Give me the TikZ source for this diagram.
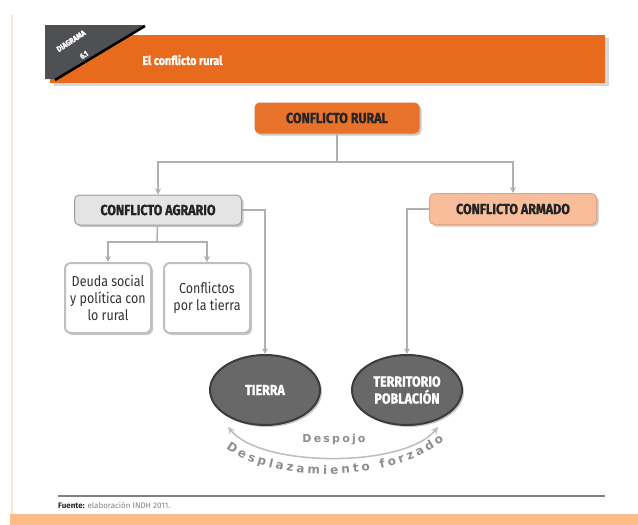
\documentclass[tikz,border=0pt]{standalone}
\usepackage{fontspec}
\setmainfont{Fira Sans}
\newfontfamily\cond[FakeStretch=0.86,BoldFeatures={FakeBold=1.3}]{Fira Sans}
\newfontfamily\verd{DejaVu Sans}
\usetikzlibrary{shadows,decorations.text,arrows.meta,shapes.geometric,calc}
\definecolor{hdr}{HTML}{E86A1C}
\definecolor{ruralc}{HTML}{E8722A}
\definecolor{armfill}{HTML}{F8BE9C}
\definecolor{armdraw}{HTML}{E7A47E}
\definecolor{agrfill}{HTML}{E4E4E4}
\definecolor{agrdraw}{HTML}{9C9C9C}
\definecolor{elfill}{HTML}{686868}
\definecolor{eldraw}{HTML}{3C3C3C}
\definecolor{lnc}{HTML}{B0B0B0}
\definecolor{txtd}{HTML}{242424}
\definecolor{curvc}{HTML}{BDBDBD}
\definecolor{curvt}{HTML}{8E8E8E}
\definecolor{tagc}{HTML}{4E5053}
\definecolor{bandc}{HTML}{FDBB88}
\definecolor{edgec}{HTML}{FCE2CF}
\tikzset{
  shad/.style={drop shadow={shadow xshift=2pt,shadow yshift=-2pt,opacity=0.35,fill=black!60}},
  bigbox/.style={rectangle,rounded corners=5pt,minimum height=30pt,text=txtd,
    font=\cond\bfseries\fontsize{14.5}{16}\selectfont,shad,line width=1pt},
  smallbox/.style={rectangle,rounded corners=6pt,draw=black!25,line width=2pt,fill=white,
    minimum width=86pt,minimum height=70pt,align=center,text=black!80,
    font=\cond\fontsize{14.5}{17}\selectfont,shad},
  oval/.style={ellipse,fill=elfill,draw=eldraw,line width=2pt,minimum width=110pt,
    minimum height=70pt,inner sep=0pt,text=white,align=center,
    font=\cond\bfseries\fontsize{14.5}{17}\selectfont,shad},
  conn/.style={draw=lnc,line width=1.5pt},
  arr/.style={conn,-{Stealth[length=6pt,width=6pt]}},
  tagtxt/.style={text=white,font=\cond\bfseries\fontsize{8}{9}\selectfont,rotate=33,inner sep=0pt},
}
\begin{document}
\begin{tikzpicture}[x=1pt,y=-1pt]
\useasboundingbox (0,0) rectangle (638,525);
\fill[white] (0,0) rectangle (638,525);
% page edges
\draw[edgec,line width=2pt] (12,15) -- (12,514);
\fill[bandc] (10,514) rectangle (638,525);
% header
\fill[hdr,drop shadow={shadow xshift=4pt,shadow yshift=-3pt,opacity=0.3,fill=black!50}] (50,35) rectangle (605,83);
\fill[tagc] (45,25) -- (145,25) -- (57,79) -- (45,79) -- cycle;
\draw[black,line width=2.5pt] (145,26) -- (55,80);
\node[tagtxt] (tag1) at (71,41) {DIAGRAMA};
\node[tagtxt] (tag2) at (84,55) {6.1};
\node[text=white,font=\cond\bfseries\fontsize{12.5}{14}\selectfont,anchor=west] (title) at (139,60) {El conflicto rural};
% nodes
\node[bigbox,fill=ruralc,minimum width=165pt,minimum height=31pt] (rural) at (337,118) {CONFLICTO RURAL};
\node[bigbox,fill=agrfill,draw=agrdraw,minimum width=167pt] (agrario) at (158,210) {CONFLICTO AGRARIO};
\node[bigbox,fill=armfill,draw=armdraw,minimum width=167pt,minimum height=31pt] (armado) at (513,209) {CONFLICTO ARMADO};
\node[smallbox] (deuda) at (108,298) {Deuda social\\y política con\\lo rural};
\node[smallbox] (confl) at (207,298) {Conflictos\\por la tierra};
\node[oval] (tierra) at (265,390) {TIERRA};
\node[oval] (terr) at (407,390) {TERRITORIO\\POBLACIÓN};
% connectors
\coordinate (s1) at (337,162);
\coordinate (s2) at (157,242);
\draw[conn] (rural) -- (s1);
\draw[arr] (s1) -| (agrario);
\draw[arr] (s1) -| (armado);
\draw[conn] (agrario) -- (s2);
\draw[arr] (s2) -| (deuda);
\draw[arr] (s2) -| (confl);
\draw[arr] (agrario.east) -| (tierra);
\draw[arr] (armado.west) -| (terr);
% curved arrow
\coordinate (cl) at (228,427);
\coordinate (cr) at (438,427);
\draw[draw=curvc,line width=1.5pt,{Stealth[length=7pt,width=7pt]}-{Stealth[length=7pt,width=7pt]}]
  (cl) .. controls (262,468) and (404,468) .. (cr);
\node[text=curvt,font=\verd\bfseries\fontsize{11}{12}\selectfont\addfontfeature{LetterSpace=20}] (desp) at (334,440) {Despojo};
\path[decorate,decoration={text along path,text color=curvt,text align={fit to path},
  text={|\verd\bfseries\fontsize{12}{13}\selectfont|Desplazamiento forzado}}]
  (226,448) .. controls (272,484) and (392,484) .. (444,440);
% footer
\draw[black!50,line width=2pt] (58,496) -- (605,496);
\node[anchor=west,font=\fontsize{8}{9}\selectfont,inner sep=0pt] (fuente) at (58,505)
  {\textbf{\color{black!85}Fuente:} \color{black!50}elaboración INDH 2011.};
\end{tikzpicture}
\end{document}
